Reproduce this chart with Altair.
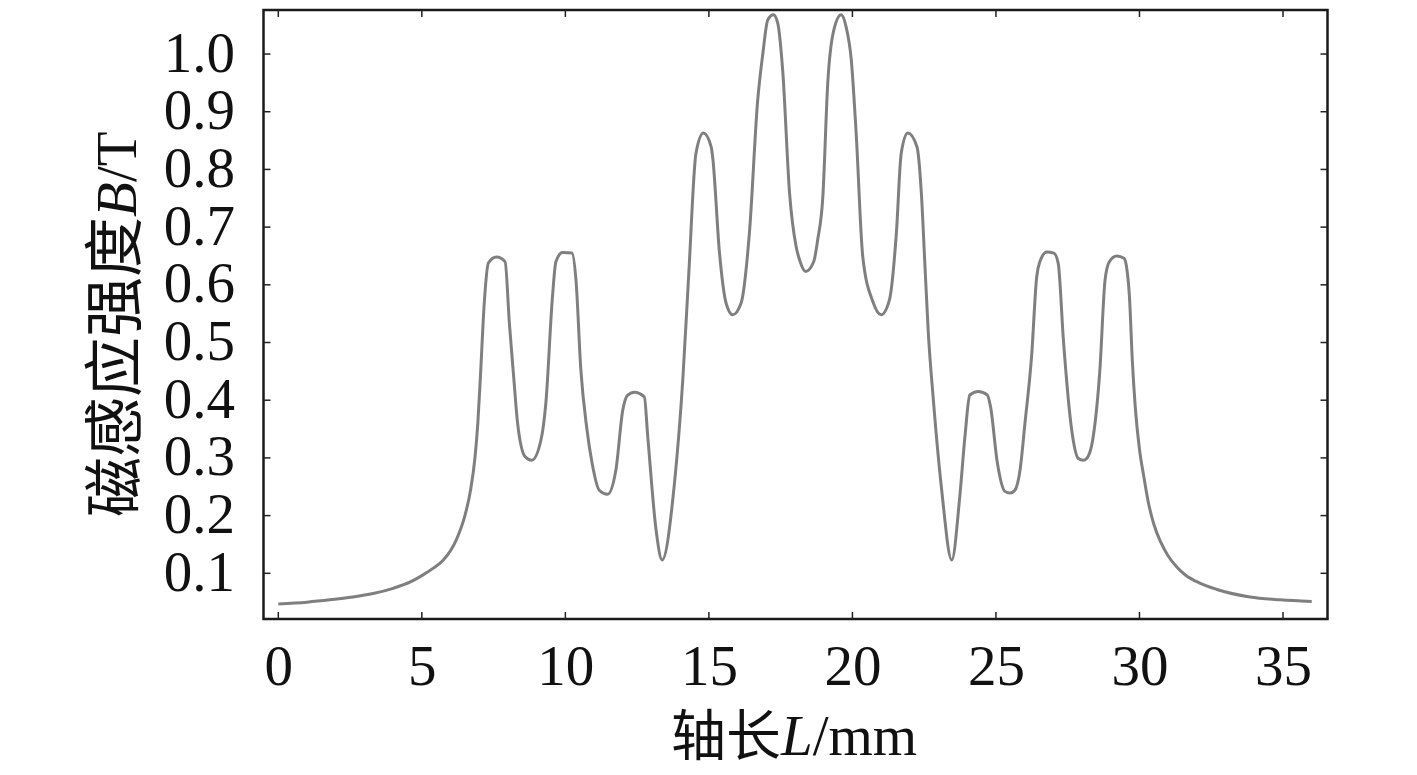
import altair as alt
import pandas as pd

# Data (axial length L in mm, flux density B in T)
x_mm = [0.0, 1.0, 1.8, 2.6, 3.3, 4.0, 4.6, 5.0, 5.4, 5.75, 6.2, 6.5, 6.7, 6.85, 6.95, 7.05, 7.17,
        7.32, 7.6, 7.9, 8.05, 8.2, 8.33, 8.6, 8.83, 9.15, 9.32, 9.55, 9.67, 9.9, 10.23, 10.37,
        10.54, 10.75, 10.93, 11.18, 11.47, 11.76, 12.0, 12.17, 12.4, 12.75, 12.87, 13.16,
        13.37, 13.8, 14.09, 14.3, 14.55, 14.81, 15.08, 15.13, 15.37, 15.6, 15.83, 16.12,
        16.41, 16.7, 16.88, 17.05, 17.25, 17.40, 17.57, 17.81, 18.04, 18.16, 18.37, 18.65,
        18.79, 18.97, 19.14, 19.34, 19.61, 19.78, 19.96, 20.13, 20.36, 20.71, 21.0, 21.29,
        21.53, 21.70, 21.93, 22.25, 22.40, 22.52, 22.64, 22.82, 23.11, 23.46, 23.74, 23.92,
        24.09, 24.38, 24.70, 24.81, 25.05, 25.31, 25.49, 25.66, 25.84, 26.01, 26.24, 26.42,
        26.53, 26.77, 27.02, 27.17, 27.35, 27.64, 27.87, 28.04, 28.16, 28.37, 28.62, 28.80,
        28.95, 29.21, 29.46, 29.55, 29.65, 29.75, 29.85, 30.0, 30.15, 30.3, 30.5, 30.75,
        31.0, 31.3, 31.6, 32.1, 32.7, 33.85, 34.9, 36.0]
b_t = [0.047, 0.050, 0.054, 0.059, 0.065, 0.074, 0.085, 0.096, 0.109, 0.123, 0.158, 0.200,
       0.245, 0.300, 0.360, 0.450, 0.565, 0.638, 0.648, 0.640, 0.533, 0.44, 0.363, 0.302, 0.296,
       0.331, 0.395, 0.579, 0.640, 0.656, 0.655, 0.608, 0.452, 0.35, 0.291, 0.244, 0.237,
       0.279, 0.383, 0.409, 0.414, 0.406, 0.337, 0.175, 0.123, 0.256, 0.435, 0.62, 0.828,
       0.863, 0.839, 0.822, 0.655, 0.568, 0.548, 0.568, 0.689, 0.920, 1.001, 1.059, 1.068,
       1.053, 0.972, 0.759, 0.666, 0.643, 0.623, 0.640, 0.678, 0.753, 0.949, 1.039, 1.068,
       1.047, 0.990, 0.863, 0.649, 0.571, 0.548, 0.574, 0.689, 0.828, 0.863, 0.839, 0.760,
       0.640, 0.520, 0.400, 0.244, 0.123, 0.233, 0.337, 0.409, 0.415, 0.409, 0.389, 0.291,
       0.242, 0.239, 0.244, 0.279, 0.360, 0.475, 0.614, 0.640, 0.657, 0.655, 0.637, 0.504,
       0.348, 0.299, 0.296, 0.299, 0.331, 0.452, 0.608, 0.640, 0.650, 0.646, 0.631, 0.580,
       0.470, 0.390, 0.315, 0.268, 0.225, 0.185, 0.153, 0.130, 0.111, 0.097, 0.083, 0.072,
       0.059, 0.054, 0.051]

x_ticks = [0, 5, 10, 15, 20, 25, 30, 35]
y_ticks = [0.1, 0.2, 0.3, 0.4, 0.5, 0.6, 0.7, 0.8, 0.9, 1.0]

W, H = 1064, 609
SERIF = "Liberation Serif"
CJK = "Noto Sans CJK SC"
LAB = 57

xscale = alt.Scale(domain=[-0.516, 36.55], nice=False, zero=False)
yscale = alt.Scale(domain=[0.0208, 1.0763], nice=False, zero=False)

df = pd.DataFrame({"L": x_mm, "B": b_t})
xt = pd.DataFrame({"v": x_ticks})
yt = pd.DataFrame({"v": y_ticks})

line = alt.Chart(df).mark_line(color="#7f7f7f", strokeWidth=3, interpolate="monotone").encode(
    x=alt.X("L:Q", scale=xscale,
            axis=alt.Axis(values=x_ticks, title=None, ticks=False, tickSize=0, domain=False,
                          grid=False, labelFont=SERIF, labelFontSize=LAB, labelColor="#111",
                          labelPadding=65, labelBaseline="alphabetic", labelFlush=False)),
    y=alt.Y("B:Q", scale=yscale,
            axis=alt.Axis(values=y_ticks, format=".1f", title=None, ticks=False, tickSize=0,
                          domain=False, grid=False, labelFont=SERIF, labelFontSize=LAB,
                          labelColor="#111", labelPadding=29, labelAlign="right",
                          labelBaseline="middle", labelFlush=False)),
)

TK = 7
tick_col = "#222"
xb = alt.Chart(xt).mark_rule(color=tick_col, strokeWidth=1.5).encode(
    x=alt.X("v:Q", scale=xscale), y=alt.value(H), y2=alt.value(H - TK))
xtp = alt.Chart(xt).mark_rule(color=tick_col, strokeWidth=1.5).encode(
    x=alt.X("v:Q", scale=xscale), y=alt.value(0), y2=alt.value(TK))
yl = alt.Chart(yt).mark_rule(color=tick_col, strokeWidth=1.5).encode(
    y=alt.Y("v:Q", scale=yscale), x=alt.value(0), x2=alt.value(TK))
yr = alt.Chart(yt).mark_rule(color=tick_col, strokeWidth=1.5).encode(
    y=alt.Y("v:Q", scale=yscale), x=alt.value(W), x2=alt.value(W - TK))


def txt(s, x, y, font, size, style="normal", align="left", angle=0):
    return alt.Chart(pd.DataFrame({"t": [s]})).mark_text(
        font=font, fontSize=size, fontStyle=style, align=align, baseline="alphabetic",
        angle=angle, color="#111").encode(text="t:N", x=alt.value(x), y=alt.value(y))


# x-axis title: 轴长L/mm
xt1 = txt("轴长", 517.5, 745, CJK, 55, align="right")
xt2 = txt("L", 517.5, 745, SERIF, 57, style="italic")
xt3 = txt("/mm", 549.2, 745, SERIF, 57)

# y-axis title: 磁感应强度B/T (rotated)
YX = -127.5
yt1 = txt("磁感应强度", YX, 507, CJK, 60, angle=270)
yt2 = txt("B", YX, 207, SERIF, 57, style="italic", angle=270)
yt3 = txt("/T", YX, 172, SERIF, 57, angle=270)

chart = alt.layer(line, xb, xtp, yl, yr, xt1, xt2, xt3, yt1, yt2, yt3).properties(
    width=W, height=H,
    autosize=alt.AutoSizeParams(type="none"),
    padding={"left": 255.5, "top": 2, "right": 30, "bottom": 155},
    background="white",
).configure_view(stroke="#1a1a1a", strokeWidth=2.5)

chart.save("out.html", embed_options={"renderer": "svg", "actions": False})
